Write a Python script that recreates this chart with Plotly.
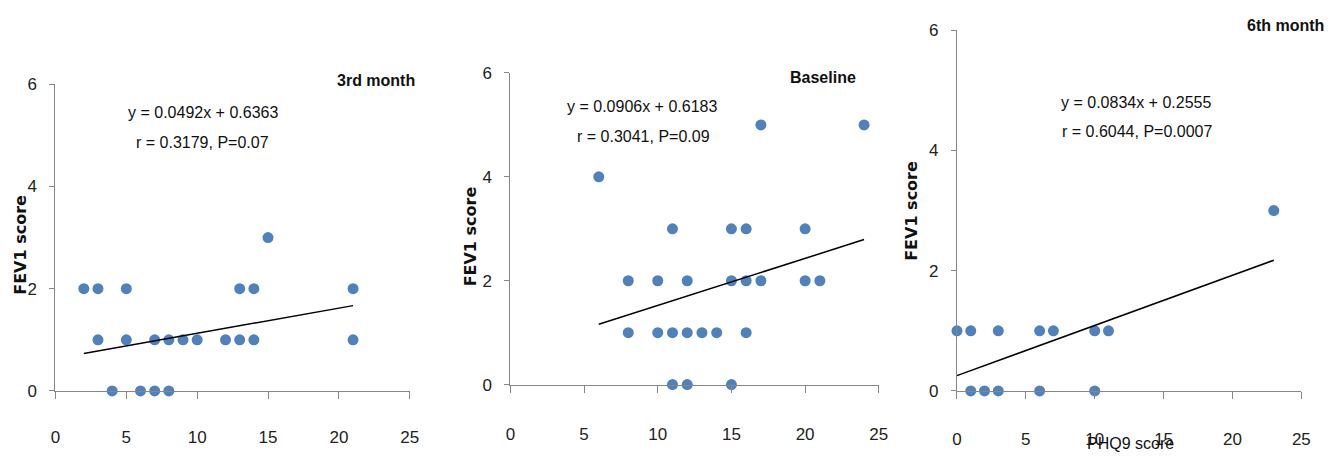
import plotly.graph_objects as go

W, H = 1343, 463

# ---- data ----
panel_titles = ["3rd month", "Baseline", "6th month"]

month3_phq9 = [2, 3, 5, 13, 14, 21, 3, 5, 7, 8, 9, 10, 12, 13, 14, 21, 4, 6, 7, 8, 15]
month3_fev1 = [2, 2, 2, 2, 2, 2, 1, 1, 1, 1, 1, 1, 1, 1, 1, 1, 0, 0, 0, 0, 3]

baseline_phq9 = [17, 24, 6, 11, 15, 16, 20, 8, 10, 12, 15, 16, 17, 20, 21,
                 8, 10, 11, 12, 13, 14, 16, 11, 12, 15]
baseline_fev1 = [5, 5, 4, 3, 3, 3, 3, 2, 2, 2, 2, 2, 2, 2, 2,
                 1, 1, 1, 1, 1, 1, 1, 0, 0, 0]

month6_phq9 = [0, 1, 3, 6, 7, 10, 11, 1, 2, 3, 6, 10, 23]
month6_fev1 = [1, 1, 1, 1, 1, 1, 1, 0, 0, 0, 0, 0, 3]

slopes = [0.0492, 0.0906, 0.0834]
intercepts = [0.6363, 0.6183, 0.2555]
equations = ["y = 0.0492x + 0.6363", "y = 0.0906x + 0.6183", "y = 0.0834x + 0.2555"]
stats = ["r = 0.3179, P=0.07", "r = 0.3041, P=0.09", "r = 0.6044, P=0.0007"]

x_ticks = [0, 5, 10, 15, 20, 25]
y_ticks = [0, 2, 4, 6]

xs = [month3_phq9, baseline_phq9, month6_phq9]
ys = [month3_fev1, baseline_fev1, month6_fev1]

# ---- layout (pixel geometry) ----
# (left, right, top, bottom) of each plot area in pixels
boxes = [(51, 409, 78.5, 398.3), (510.7, 883, 66.7, 391.7), (962, 1310, 22, 398.3)]
x_standoff = [24, 27, 26]
title_pos = [(374.5, 75), (826.5, 71), (1293.5, 17)]
eq_pos = [(200, 108), (644, 102), (1143, 98)]
stat_pos = [(200, 139), (645, 133), (1144, 128)]
ytitle_pos = [(16, 246), (470, 237), (916, 210)]

FONT = "Liberation Sans, Arial, sans-serif"
BLUE = "#4F81BD"
AXIS = "#868686"

fig = go.Figure()
layout = dict(width=W, height=H, margin=dict(l=0, r=0, t=0, b=0),
              paper_bgcolor="white", plot_bgcolor="white", showlegend=False)
annotations = []

def px(x):
    return x / W

def py(y):
    return 1 - y / H

for i in range(3):
    sfx = "" if i == 0 else str(i + 1)
    l, r, t, b = boxes[i]
    layout["xaxis" + sfx] = dict(
        domain=[px(l), px(r)], anchor="y" + sfx, range=[0, 25],
        tickvals=x_ticks, showgrid=False, zeroline=False,
        showline=True, linecolor=AXIS, linewidth=1,
        ticks="outside", ticklen=7, tickcolor=AXIS,
        ticklabelstandoff=x_standoff[i],
        tickfont=dict(family=FONT, size=17, color="#222"),
    )
    layout["yaxis" + sfx] = dict(
        domain=[py(b), py(t)], anchor="x" + sfx, range=[0, 6],
        tickvals=y_ticks, showgrid=False, zeroline=False,
        showline=True, linecolor=AXIS, linewidth=1,
        ticks="outside", ticklen=5, tickcolor=AXIS,
        ticklabelstandoff=9,
        tickfont=dict(family=FONT, size=17, color="#222"),
    )
    xa = "x" + sfx
    ya = "y" + sfx
    fig.add_trace(go.Scatter(
        x=xs[i], y=ys[i], mode="markers", xaxis=xa, yaxis=ya,
        marker=dict(color=BLUE, size=11), cliponaxis=False,
    ))
    x0, x1 = min(xs[i]), max(xs[i])
    fig.add_trace(go.Scatter(
        x=[x0, x1], y=[slopes[i] * x0 + intercepts[i], slopes[i] * x1 + intercepts[i]],
        mode="lines", xaxis=xa, yaxis=ya,
        line=dict(color="black", width=1.5), cliponaxis=False,
    ))
    annotations.append(dict(
        text="<b>" + panel_titles[i] + "</b>", x=px(title_pos[i][0]), y=py(title_pos[i][1]),
        xref="paper", yref="paper", xanchor="center", yanchor="middle", showarrow=False,
        font=dict(family=FONT, size=16, color="#111")))
    annotations.append(dict(
        text=equations[i], x=px(eq_pos[i][0]), y=py(eq_pos[i][1]),
        xref="paper", yref="paper", xanchor="center", yanchor="middle", showarrow=False,
        font=dict(family=FONT, size=16, color="#111")))
    annotations.append(dict(
        text=stats[i], x=px(stat_pos[i][0]), y=py(stat_pos[i][1]),
        xref="paper", yref="paper", xanchor="center", yanchor="middle", showarrow=False,
        font=dict(family=FONT, size=16, color="#111")))
    annotations.append(dict(
        text="<b>FEV1 score</b>", x=px(ytitle_pos[i][0]), y=py(ytitle_pos[i][1]),
        xref="paper", yref="paper", xanchor="center", yanchor="middle", showarrow=False,
        textangle=-90, font=dict(family="DejaVu Sans, Arial, sans-serif", size=16, color="#111")))

annotations.append(dict(
    text="PHQ9 score", x=px(1137), y=py(453),
    xref="paper", yref="paper", xanchor="center", yanchor="middle", showarrow=False,
    font=dict(family=FONT, size=16, color="#111")))

layout["annotations"] = annotations
fig.update_layout(**layout)
fig.write_html(
    "out.html",
    config={"displayModeBar": False},
    post_script="document.body.style.margin='0';document.body.style.overflow='hidden';",
)
